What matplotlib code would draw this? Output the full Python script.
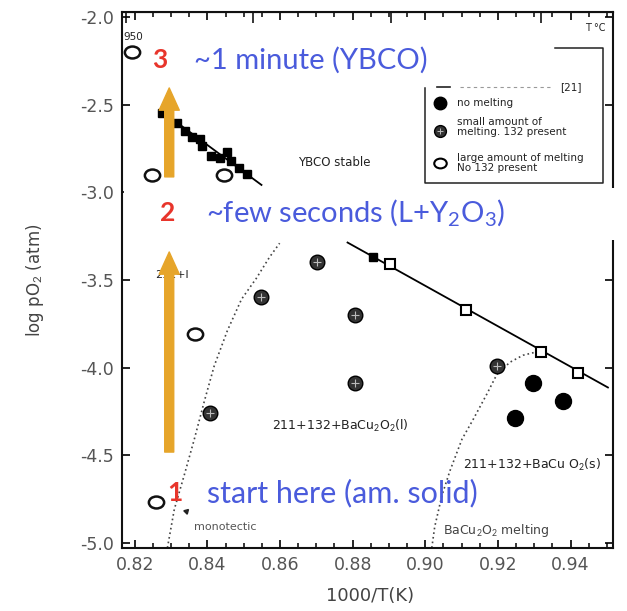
import matplotlib
matplotlib.use("Agg")
import matplotlib.pyplot as plt
from matplotlib.patches import FancyArrowPatch, ArrowStyle, Rectangle
from matplotlib.path import Path
from matplotlib.transforms import Affine2D
from matplotlib.ticker import MultipleLocator, FormatStrFormatter

plt.rcParams["axes.unicode_minus"] = False
plt.rcParams["mathtext.fontset"] = "custom"
plt.rcParams["mathtext.rm"] = "Lato"
plt.rcParams["mathtext.it"] = "Lato:italic"

# --- data (x = 1000/T, y = log pO2) ---
open_x = [0.8193, 0.8248, 0.8447, 0.8367, 0.8259]
open_y = [-2.20, -2.90, -2.90, -3.81, -4.77]

hatch_x = [0.8701, 0.8549, 0.8806, 0.9197, 0.8806, 0.8406]
hatch_y = [-3.40, -3.60, -3.70, -3.99, -4.09, -4.26]

filled_x = [0.9297, 0.9379, 0.9247]
filled_y = [-4.09, -4.19, -4.29]

sq_x = [0.8276, 0.8317, 0.8339, 0.8359, 0.8381, 0.8386, 0.8411, 0.8436,
        0.8455, 0.8466, 0.8486, 0.8510, 0.8855]
sq_y = [-2.546, -2.603, -2.649, -2.683, -2.694, -2.734, -2.791, -2.803,
        -2.769, -2.820, -2.860, -2.894, -3.371]

osq_x = [0.8902, 0.9112, 0.9319, 0.9421]
osq_y = [-3.406, -3.669, -3.909, -4.029]

upper_line_x = [0.8314, 0.8549]
upper_line_y = [-2.597, -2.957]
lower_line_x = [0.8786, 0.9503]
lower_line_y = [-3.286, -4.114]

left_dot_x = [0.8290, 0.8309, 0.8337, 0.8364, 0.8392, 0.8419, 0.8455,
              0.8494, 0.8535, 0.8571, 0.8599]
left_dot_y = [-5.03, -4.81, -4.61, -4.41, -4.19, -3.99, -3.79,
              -3.61, -3.49, -3.37, -3.29]
right_dot_x = [0.9018, 0.9026, 0.9046, 0.9068, 0.9101, 0.9131, 0.9170,
               0.9197, 0.9233, 0.9269, 0.9308]
right_dot_y = [-5.03, -4.91, -4.73, -4.59, -4.41, -4.30, -4.15,
               -4.04, -3.97, -3.93, -3.91]

# overlay arrows (x, y_tail, y_tip)
arrows = [(0.8295, -2.911, -2.403), (0.8295, -4.483, -3.340)]

x_ticks = [0.82, 0.84, 0.86, 0.88, 0.90, 0.92, 0.94]
y_ticks = [-5.0, -4.5, -4.0, -3.5, -3.0, -2.5, -2.0]
t_ticks = [800, 850, 900, 950]

BLUE = "#4a5bdc"
RED = "#e8352b"
ORANGE = "#e6a52a"
INK = "#222222"

fig = plt.figure(figsize=(6.27, 6.11), dpi=100)
ax = fig.add_axes([0.1946, 0.1031, 0.7831, 0.8773])
ax.set_xlim(0.8165, 0.9517)
ax.set_ylim(-5.031, -1.969)

# phase boundaries
ax.plot(upper_line_x, upper_line_y, color="black", lw=1.3, zorder=2)
ax.plot(lower_line_x, lower_line_y, color="black", lw=1.3, zorder=2)
ax.plot(left_dot_x, left_dot_y, color="#444444", lw=1.2, ls=(0, (1, 1.8)), zorder=2)
ax.plot(right_dot_x, right_dot_y, color="#444444", lw=1.2, ls=(0, (1, 1.8)), zorder=2)

ellipse = Path.unit_circle().transformed(Affine2D().scale(1, 0.78))

ax.plot(sq_x, sq_y, "s", ms=6, color="black", zorder=3)
ax.plot(osq_x, osq_y, "s", ms=7.5, mfc="white", mec="black", mew=1.5, zorder=3)
ax.plot(open_x, open_y, ls="none", marker=ellipse, ms=11, mfc="white",
        mec="#111111", mew=1.8, zorder=3)
ax.plot(hatch_x, hatch_y, "o", ms=10.5, mfc="#333333", mec="black", mew=1, zorder=3)
ax.plot(hatch_x, hatch_y, "+", ms=6, mec="#bbbbbb", mew=0.8, zorder=4)
ax.plot(filled_x, filled_y, "o", ms=11.5, color="black", zorder=3)

# legend drawn like the scanned original
ax.plot([0.8999, 0.8999, 0.949, 0.949, 0.9357], [-2.403, -2.946, -2.946, -2.174, -2.174],
        color=INK, lw=1.1, zorder=2)
ax.plot([0.9032, 0.9068], [-2.397, -2.397], color=INK, lw=1.2)
ax.plot([0.9095, 0.9343], [-2.397, -2.397], color="#999999", lw=0.8, ls=(0, (3, 3)))
ax.text(0.9371, -2.397, "[21]", fontsize=7.5, color=INK, va="center")
ax.plot([0.9040], [-2.489], "o", ms=9, color="black")
ax.text(0.9088, -2.489, "no melting", fontsize=7.5, color=INK, va="center")
ax.plot([0.9040], [-2.649], "o", ms=8.5, mfc="#333333", mec="black")
ax.plot([0.9040], [-2.649], "+", ms=5, mec="#bbbbbb", mew=0.7)
ax.text(0.9088, -2.626, "small amount of\nmelting. 132 present", fontsize=7.5,
        color=INK, va="center", linespacing=1.0)
ax.plot([0.9040], [-2.831], ls="none", marker=ellipse, ms=9, mfc="white", mec="black", mew=1.5)
ax.text(0.9088, -2.831, "large amount of melting\nNo 132 present", fontsize=7.5,
        color=INK, va="center", linespacing=1.0)

# labels of the scanned figure
ax.text(0.875, -2.826, "YBCO stable", fontsize=8.5, color=INK, ha="center", va="center")
ax.text(0.8577, -4.334, "211+132+BaCu$_2$O$_2$(l)", fontsize=9, color=INK, va="center")
ax.text(0.9103, -4.557, "211+132+BaCu O$_2$(s)", fontsize=9, color=INK, va="center")
ax.text(0.8255, -3.471, "211+l", fontsize=8, color=INK, va="center")
ax.text(0.8364, -4.911, "monotectic", fontsize=8, color="#555555", va="center")
ax.text(0.9048, -4.929, "BaCu$_2$O$_2$ melting", fontsize=9, color="#444444", va="center")
ax.text(0.8168, -2.111, "950", fontsize=7.5, color=INK, va="center")
ax.text(0.9440, -2.060, "T °C", fontsize=7, color=INK, va="center")
ax.plot([0.8341], [-4.82], marker=(3, 0, 75), ms=4, color=INK, zorder=3)

# white patch of the slide overlay (hides the right spine there)
ax.add_patch(Rectangle((0.004, -3.271), 1.02, 0.297, transform=ax.get_yaxis_transform(),
                       facecolor="white", edgecolor="none", clip_on=False, zorder=4))

# orange overlay arrows
for x, y0, y1 in arrows:
    ax.add_patch(FancyArrowPatch((x, y0), (x, y1),
                 arrowstyle=ArrowStyle.Simple(head_length=16, head_width=14.5, tail_width=6.5),
                 mutation_scale=1, color=ORANGE, shrinkA=0, shrinkB=0, zorder=6))

# slide overlay text
blue_font = dict(family="Lato", fontsize=21, va="center", zorder=7)
red_font = dict(family="Lato", fontsize=19, va="center", zorder=7, fontweight="bold", color=RED)
ax.text(0.8248, -2.243, "3", **red_font)
ax.text(0.8364, -2.243, "~1 minute (YBCO)", color=BLUE, **blue_font)
ax.text(0.8270, -3.117, "2", **red_font)
ax.text(0.8397, -3.117, "~few seconds (L+Y$_2$O$_3$)", color=BLUE, **blue_font)
ax.text(0.8290, -4.717, "1", **red_font)
ax.text(0.8400, -4.717, "start here (am. solid)", color=BLUE, fontsize=22,
        family="Lato", va="center", zorder=7)

# axes, ticks
ax.set_xticks(x_ticks)
ax.set_yticks(y_ticks)
ax.xaxis.set_minor_locator(MultipleLocator(0.005))
ax.xaxis.set_major_formatter(FormatStrFormatter("%.2f"))
ax.yaxis.set_major_formatter(FormatStrFormatter("%.1f"))
ax.tick_params(axis="both", which="major", direction="in", length=6, width=1.2,
               labelsize=12.5, labelcolor="#555555", pad=6)
ax.tick_params(axis="y", right=True)
ax.tick_params(axis="x", which="minor", direction="in", length=3.5, width=1.1, top=True)
ax.tick_params(axis="x", which="major", top=True)
for s in ax.spines.values():
    s.set_linewidth(1.5)
    s.set_color("#111111")

sec = ax.secondary_xaxis("top", functions=(lambda v: 1000.0 / v - 273.0,
                                          lambda t: 1000.0 / (t + 273.0)))
sec.set_xticks(t_ticks)
sec.tick_params(direction="in", length=8, width=1.1, labeltop=False)

ax.set_xlabel("1000/T(K)", fontsize=13, color="#444444")
ax.set_ylabel("log pO$_2$ (atm)", fontsize=12, color="#444444")
ax.xaxis.set_label_coords(0.505, -0.072)
ax.yaxis.set_label_coords(-0.155, 0.5)

fig.savefig("out.png", dpi=100, facecolor="white")
